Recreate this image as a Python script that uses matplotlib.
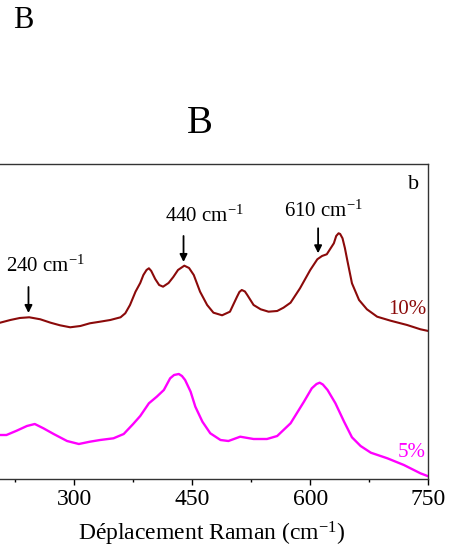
import matplotlib
matplotlib.use("Agg")
from matplotlib import pyplot as plt
from matplotlib.ticker import MultipleLocator

plt.rcParams["font.family"] = ["Liberation Serif", "DejaVu Serif"]
plt.rcParams["mathtext.fontset"] = "custom"
plt.rcParams["mathtext.rm"] = "Liberation Serif"
plt.rcParams["mathtext.it"] = "Liberation Serif:italic"

# Raman shift (cm-1) and intensity (a.u.)
shift_10 = [206, 219, 231, 243, 257, 270, 282, 295, 308, 320, 333, 346, 359, 365,
            371, 378, 384, 388, 392, 395, 398, 403, 408, 413, 420, 426, 432, 440,
            446, 452, 460, 469, 477, 488, 498, 507, 510, 513, 517, 520, 528, 537,
            547, 558, 566, 575, 587, 600, 609, 615, 621, 630, 633, 636, 638, 641,
            644, 647, 653, 662, 672, 685, 702, 723, 740, 750]
int_10 = [156.3, 159, 161, 161.7, 159.7, 156.3, 153.7, 151.7, 153, 155.7, 157.3, 159,
          161.7, 165.7, 174, 187.3, 196, 204, 209, 210.7, 208, 200, 194, 192.3,
          196, 202, 209, 213.3, 211, 204, 187.3, 174, 166.3, 163.7, 167.3, 182.3,
          187, 189, 187.5, 184, 174, 169.7, 167.3, 168, 171.3, 176.3, 190.7, 209,
          219.7, 223, 224.7, 235.7, 243, 245.7, 245, 240.7, 231, 219, 195.7, 179,
          169.7, 162.3, 158.3, 154, 149.7, 148]

shift_5 = [206, 214, 227, 240, 250, 261, 274, 291, 306, 320, 333, 350, 363, 375,
           384, 395, 405, 414, 422, 427, 433, 437, 441, 448, 454, 463, 473, 486,
           496, 511, 528, 545, 558, 575, 592, 602, 608, 612, 616, 622, 632, 643,
           653, 664, 677, 698, 719, 740, 749]
int_5 = [44, 44, 48.3, 53, 55, 50.7, 45, 38, 35, 37.3, 39, 40.7, 45, 55, 63, 75.7,
         82.3, 89, 100.7, 104, 105, 103, 99, 87.3, 72.3, 57.3, 45.7, 39, 38, 42.3,
         40, 40, 43, 55.7, 77.3, 90.7, 95, 96.3, 94.5, 89, 75.7, 57.3, 41.7, 33,
         26.3, 20.7, 14, 5.7, 3]

xticks = [300, 450, 600, 750]

red = "#8b0a0a"
pink = "#ff00ff"

fig = plt.figure(figsize=(4.49, 5.47), dpi=100)
ax = fig.add_axes([-0.0102, 0.1243, 0.9641, 0.5754])

ax.plot(shift_10, int_10, color=red, lw=1.5)
ax.plot(shift_5, int_5, color=pink, lw=1.7)

ax.set_xlim(200, 750)
ax.set_ylim(0, 314.7)
ax.set_xticks(xticks)
ax.xaxis.set_minor_locator(MultipleLocator(75))
ax.set_yticks([])
ax.tick_params(axis="x", which="major", direction="out", length=4, width=1,
               labelsize=17, pad=3)
ax.tick_params(axis="x", which="minor", direction="out", length=2.5, width=1)
for s in ax.spines.values():
    s.set_linewidth(1.0)
    s.set_color("#333333")

ax.set_xlabel("Déplacement Raman (cm$^{\\mathrm{-1}}$)", fontsize=17, labelpad=7)

# peak markers
arrows = [(242, 192, 166), (439, 243, 217), (610, 250.7, 225.7)]
for x, y0, y1 in arrows:
    ax.annotate("", xy=(x, y1), xytext=(x, y0),
                arrowprops=dict(arrowstyle="-|>", color="k", lw=1.3,
                                mutation_scale=11, shrinkA=0, shrinkB=0))

ax.text(263.7, 206.7, "240 cm$^{\\mathrm{-1}}$", fontsize=15, ha="center", va="baseline")
ax.text(466.0, 256.7, "440 cm$^{\\mathrm{-1}}$", fontsize=15, ha="center", va="baseline")
ax.text(617.4, 261.7, "610 cm$^{\\mathrm{-1}}$", fontsize=15, ha="center", va="baseline")
ax.text(724.5, 290, "b", fontsize=16, ha="left", va="baseline")
ax.text(698.6, 164.7, "10%", fontsize=15, color=red, ha="left", va="baseline")
ax.text(711.3, 22.3, "5%", fontsize=15, color=pink, ha="left", va="baseline")

fig.text(23.3 / 449, 1 - 28.3 / 547, "B", fontsize=22, ha="center", va="baseline")
fig.text(200 / 449, 1 - 133 / 547, "B", fontsize=28, ha="center", va="baseline")

fig.savefig("out.png", dpi=100)
